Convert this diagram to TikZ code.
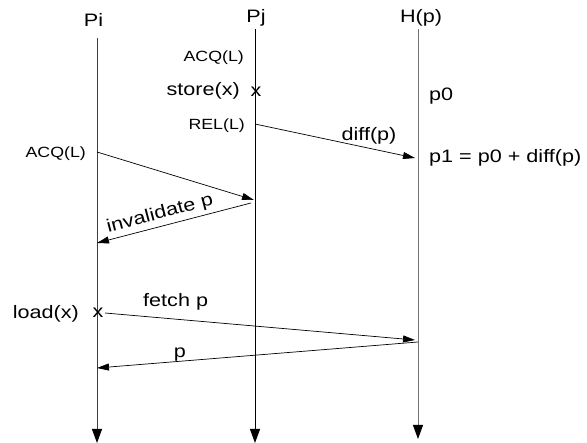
\documentclass[tikz,border=0pt]{standalone}
\usepackage{fontspec}
\setmainfont{Liberation Sans}[FakeStretch=1.2]
\usetikzlibrary{arrows.meta}
\begin{document}
\begin{tikzpicture}[x=1pt,y=-1pt,
  big/.style={font=\fontsize{18}{20}\selectfont, inner sep=0pt},
  small/.style={font=\fontsize{14.8}{16}\selectfont, inner sep=0pt},
  lifeline/.style={line width=0.9pt, -{Triangle[length=14pt,width=10pt,color=black]}},
  msg/.style={line width=0.7pt, -{Triangle[length=12pt,width=7pt]}}]
\useasboundingbox (0,0) rectangle (587,443);

% process headers
\node[big, anchor=base] (pi) at (93.5,27) {Pi};
\node[big, anchor=base] (pj) at (256,23) {Pj};
\node[big, anchor=base] (hp) at (421,23) {H(p)};

% lifelines
\coordinate (pitop) at (97,38);  \coordinate (pibot) at (97,443);
\coordinate (pjtop) at (255,29); \coordinate (pjbot) at (255,443);
\coordinate (hptop) at (418,29); \coordinate (hpbot) at (418,439);
\draw[lifeline, black!75] (pitop) -- (pibot);
\draw[lifeline] (pjtop) -- (pjbot);
\draw[lifeline, black!55] (hptop) -- (hpbot);

% events on Pj
\node[small, anchor=base east] (acqj) at (244,62) {ACQ(L)};
\node[big, anchor=base east] (store) at (240,96) {store(x)};
\node[big, anchor=base] (xj) at (256,97) {x};
\node[small, anchor=base east] (rel) at (245,130) {REL(L)};

% home node states
\node[big, anchor=base west] (p0) at (429,101) {p0};
\node[big, anchor=base west] (p1) at (429,163) {p1 = p0 + diff(p)};

% events on Pi
\node[small, anchor=base east] (acqi) at (86,158) {ACQ(L)};
\node[big, anchor=base east] (load) at (79,319) {load(x)};
\node[big, anchor=base] (xi) at (98,318) {x};

% message end points
\coordinate (relout) at (255,124);
\coordinate (diffin) at (415,158);
\coordinate (acqout) at (97,152);
\coordinate (acqin) at (254,200);
\coordinate (invout) at (251,203);
\coordinate (invin) at (97,243);
\coordinate (fetchout) at (105,313);
\coordinate (fetchin) at (415,340);
\coordinate (pout) at (418,342);
\coordinate (pin) at (97,368);

% messages
\draw[msg] (relout) -- (diffin);
\node[big, anchor=base] (difflbl) at (369,141) {diff(p)};
\draw[msg] (acqout) -- (acqin);
\draw[msg] (invout) -- (invin);
\node[big, rotate=14.7] (invlbl) at (160,214) {invalidate p};
\draw[msg] (fetchout) -- (fetchin);
\node[big, anchor=base west] (fetchlbl) at (143,307) {fetch p};
\draw[msg] (pout) -- (pin);
\node[big, anchor=base] (plbl) at (180,358) {p};
\end{tikzpicture}
\end{document}
